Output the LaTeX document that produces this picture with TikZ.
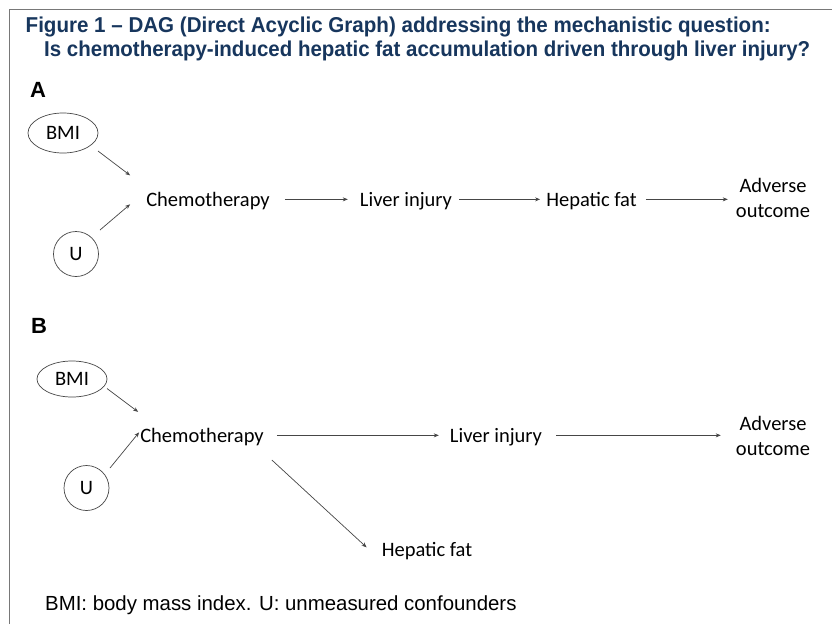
\documentclass[tikz,border=0pt]{standalone}
\usepackage{fontspec}
\setmainfont{Liberation Sans}
\newfontfamily\carlito{Carlito}
\usetikzlibrary{calc,arrows.meta,shapes.geometric}
\definecolor{navy}{RGB}{23,54,93}
\definecolor{framegray}{RGB}{120,120,120}
\definecolor{linegray}{RGB}{70,70,70}
\tikzset{
  lbl/.style={font=\carlito\fontsize{20.5}{25}\selectfont, inner sep=0pt, text height=13.3pt, text depth=0pt, anchor=base},
  twoline/.style={font=\carlito\fontsize{20.5}{25}\selectfont, inner sep=0pt, align=center, anchor=center},
  oval/.style={ellipse, draw=linegray, line width=0.7pt, minimum width=70pt, inner sep=0pt, font=\carlito\fontsize{20.5}{25}\selectfont},
  circ/.style={circle, draw=linegray, line width=0.7pt, minimum size=45pt, inner sep=0pt, font=\carlito\fontsize{20.5}{25}\selectfont},
  arr/.style={draw=linegray, line width=0.7pt, -{Stealth[length=5pt,width=4pt]}},
  panel/.style={font=\bfseries\fontsize{22}{26}\selectfont, inner sep=0pt, anchor=base west},
  titletext/.style={font=\bfseries\fontsize{21.5}{24}\selectfont, text=navy, inner sep=0pt, anchor=base west},
}
\begin{document}
\begin{tikzpicture}[x=1pt,y=-1pt]
\useasboundingbox (0,0) rectangle (832,624);
\fill[white] (0,0) rectangle (832,624);
% frame
\draw[framegray, line width=0.8pt] (9,624) -- (9,9.5) -- (832,9.5);
% title
\node[titletext] (t1) at (25.5,32) {\resizebox{745pt}{\height}{Figure 1 – DAG (Direct Acyclic Graph) addressing the mechanistic question:}};
\node[titletext] (t2) at (44,56) {\resizebox{766pt}{\height}{Is chemotherapy-induced hepatic fat accumulation driven through liver injury?}};
% panel A
\node[panel] (pA) at (30,97) {A};
\node[oval, minimum height=40pt] (bmiA) at (63,133) {BMI};
\node[circ] (uA) at (76,254) {U};
\node[lbl] (chemoA) at (208,206) {Chemotherapy};
\node[lbl] (liverA) at (406,206) {Liver injury};
\node[lbl] (hepA) at (591.5,206) {Hepatic fat};
\node[twoline] (advA) at (773,197.8) {Adverse\\outcome};
\draw[arr] ($(bmiA)+(35,18)$) -- ($(chemoA.west)+(-16,-24)$);
\draw[arr] ($(uA)+(24,-24)$) -- ($(chemoA.west)+(-16,5)$);
\draw[arr] ($(chemoA.east)+(15,0)$) -- ($(liverA.west)+(-12,0)$);
\draw[arr] ($(liverA.east)+(7,0)$) -- ($(hepA.west)+(-6,0)$);
\draw[arr] ($(hepA.east)+(9,0)$) -- ($(hepA.east -| advA.west)+(-8,0)$);
% panel B
\node[panel] (pB) at (31,333) {B};
\node[oval, minimum height=36pt] (bmiB) at (72,379) {BMI};
\node[circ] (uB) at (86.5,488) {U};
\node[lbl] (chemoB) at (202,442) {Chemotherapy};
\node[lbl] (liverB) at (496,442) {Liver injury};
\node[twoline] (advB) at (773,435.6) {Adverse\\outcome};
\node[lbl] (hepB) at (427,556) {Hepatic fat};
\draw[arr] ($(bmiB)+(35,9.5)$) -- ($(chemoB.west)+(-2,-23.5)$);
\draw[arr] ($(uB)+(23.5,-20)$) -- ($(chemoB.west)+(-1,-3)$);
\draw[arr] ($(chemoB.east)+(13,0)$) -- ($(liverB.west)+(-11,0)$);
\draw[arr] ($(liverB.east)+(14,0)$) -- ($(liverB.east -| advB.west)+(-15,0)$);
\draw[arr] ($(chemoB.east)+(8,24.7)$) -- ($(hepB.west)+(-15,-2)$);
% footer
\node[font=\fontsize{20.4}{24}\selectfont, inner sep=0pt, anchor=base west] (foot) at (45,610) {BMI: body mass index. U: unmeasured confounders};
\end{tikzpicture}
\end{document}
